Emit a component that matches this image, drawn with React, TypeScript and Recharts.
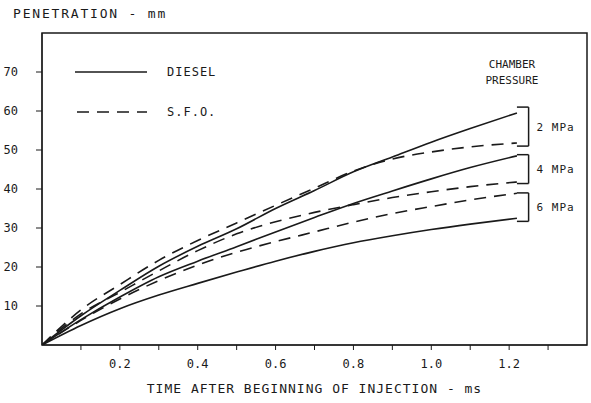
import { LineChart, Line, XAxis, YAxis, ReferenceLine, ReferenceArea, Label } from 'recharts';

// time after beginning of injection (ms)
const times = [0, 0.1, 0.2, 0.3, 0.4, 0.5, 0.6, 0.7, 0.8, 0.9, 1.0, 1.1, 1.22];

// penetration (mm)
const diesel2 = [0, 7.5, 14, 20.2, 25.3, 29.8, 35, 39.6, 44.4, 48.2, 52, 55.5, 59.5];
const sfo2 = [0, 9, 15.5, 21.7, 26.8, 31.3, 35.8, 40.2, 44.6, 47.7, 49.5, 50.8, 51.8];
const diesel4 = [0, 6.5, 12.3, 17.5, 21.5, 25.2, 29, 32.7, 36.3, 39.5, 42.6, 45.5, 48.5];
const sfo4 = [0, 8, 13.5, 19, 24.2, 28.5, 31.6, 34, 36, 37.8, 39.3, 40.6, 41.8];
const diesel6 = [0, 5, 9.3, 12.8, 15.8, 18.7, 21.5, 24, 26.2, 28, 29.6, 31, 32.5];
const sfo6 = [0, 6.3, 11.8, 16.5, 20.5, 23.8, 26.5, 29, 31.5, 33.7, 35.5, 37.2, 38.9];

const xTicks = [0.1, 0.2, 0.3, 0.4, 0.5, 0.6, 0.7, 0.8, 0.9, 1.0, 1.1, 1.2, 1.3];
const xLabels = [0.2, 0.4, 0.6, 0.8, 1.0, 1.2];
const yTicks = [10, 20, 30, 40, 50, 60, 70];

// chamber pressure brackets
const brackets = [
  { label: '2 MPa', top: 61, bottom: 51 },
  { label: '4 MPa', top: 48.8, bottom: 41.4 },
  { label: '6 MPa', top: 39, bottom: 31.7 },
];
const bracketStart = 1.22;
const bracketEnd = 1.25;

const data = times.map((t, i) => ({
  t,
  diesel2: diesel2[i],
  sfo2: sfo2[i],
  diesel4: diesel4[i],
  sfo4: sfo4[i],
  diesel6: diesel6[i],
  sfo6: sfo6[i],
}));

const ink = '#1a1a1a';
const font = '"DejaVu Sans Mono", monospace';
const dash = '12 8';

export default function App() {
  return (
    <div
      style={{
        position: 'absolute',
        left: 0,
        top: 0,
        width: 591,
        height: 403,
        background: '#fff',
        fontFamily: font,
        color: ink,
      }}
    >
      <LineChart
        width={591}
        height={403}
        data={data}
        margin={{ top: 33, right: 4, left: 0, bottom: 0 }}
        style={{ fontFamily: font }}
      >
        <XAxis
          type="number"
          dataKey="t"
          domain={[0, 1.4]}
          ticks={xTicks}
          tickFormatter={(v: number) =>
            xLabels.some((l) => Math.abs(l - v) < 1e-6) ? v.toFixed(1) : ''
          }
          height={58}
          tickSize={5}
          tickMargin={9}
          stroke={ink}
          tick={{ fill: ink, fontSize: 12 }}
          allowDataOverflow
        >
          <Label
            value="TIME AFTER BEGINNING OF INJECTION - ms"
            position="insideBottom"
            offset={10}
            fill={ink}
            fontSize={13}
            style={{ letterSpacing: 1 }}
          />
        </XAxis>
        <YAxis
          type="number"
          domain={[0, 80]}
          ticks={yTicks}
          width={42}
          tickSize={6}
          tickMargin={18}
          stroke={ink}
          tick={{ fill: ink, fontSize: 12 }}
          allowDataOverflow
        />
        <ReferenceArea x1={0} x2={1.4} y1={0} y2={80} fill="none" stroke={ink} strokeWidth={1.5} />

        <Line type="monotone" dataKey="diesel2" stroke={ink} strokeWidth={1.6} dot={false} isAnimationActive={false} />
        <Line type="monotone" dataKey="diesel4" stroke={ink} strokeWidth={1.6} dot={false} isAnimationActive={false} />
        <Line type="monotone" dataKey="diesel6" stroke={ink} strokeWidth={1.6} dot={false} isAnimationActive={false} />
        <Line type="monotone" dataKey="sfo2" stroke={ink} strokeWidth={1.6} strokeDasharray={dash} dot={false} isAnimationActive={false} />
        <Line type="monotone" dataKey="sfo4" stroke={ink} strokeWidth={1.6} strokeDasharray={dash} dot={false} isAnimationActive={false} />
        <Line type="monotone" dataKey="sfo6" stroke={ink} strokeWidth={1.6} strokeDasharray={dash} dot={false} isAnimationActive={false} />

        {brackets.map((b) => (
          <ReferenceLine
            key={b.label + 'top'}
            segment={[{ x: bracketStart, y: b.top }, { x: bracketEnd, y: b.top }]}
            stroke={ink}
            strokeWidth={1.5}
          />
        ))}
        {brackets.map((b) => (
          <ReferenceLine
            key={b.label + 'bottom'}
            segment={[{ x: bracketStart, y: b.bottom }, { x: bracketEnd, y: b.bottom }]}
            stroke={ink}
            strokeWidth={1.5}
          />
        ))}
        {brackets.map((b) => (
          <ReferenceLine
            key={b.label + 'side'}
            segment={[{ x: bracketEnd, y: b.bottom }, { x: bracketEnd, y: b.top }]}
            stroke={ink}
            strokeWidth={1.5}
            label={{ value: b.label, position: 'right', offset: 8, fill: ink, fontSize: 11, style: { letterSpacing: 1 } }}
          />
        ))}
      </LineChart>

      {/* y-axis title */}
      <div style={{ position: 'absolute', left: 13, top: 6, fontSize: 13, letterSpacing: 1.8, whiteSpace: 'pre' }}>
        PENETRATION - mm
      </div>

      {/* legend */}
      <div style={{ position: 'absolute', left: 75, top: 63, fontSize: 12, letterSpacing: 1 }}>
        <div style={{ display: 'flex', alignItems: 'center', height: 18 }}>
          <svg width={74} height={4}>
            <line x1={0} y1={2} x2={72} y2={2} stroke={ink} strokeWidth={1.6} />
          </svg>
          <span style={{ marginLeft: 18 }}>DIESEL</span>
        </div>
        <div style={{ display: 'flex', alignItems: 'center', height: 18, marginTop: 22 }}>
          <svg width={74} height={4}>
            <line x1={2} y1={2} x2={72} y2={2} stroke={ink} strokeWidth={1.6} strokeDasharray={dash} />
          </svg>
          <span style={{ marginLeft: 18 }}>S.F.O.</span>
        </div>
      </div>

      {/* chamber pressure heading */}
      <div
        style={{
          position: 'absolute',
          left: 480,
          top: 57,
          width: 64,
          textAlign: 'center',
          fontSize: 11,
          lineHeight: '16px',
        }}
      >
        CHAMBER
        <br />
        PRESSURE
      </div>
    </div>
  );
}
